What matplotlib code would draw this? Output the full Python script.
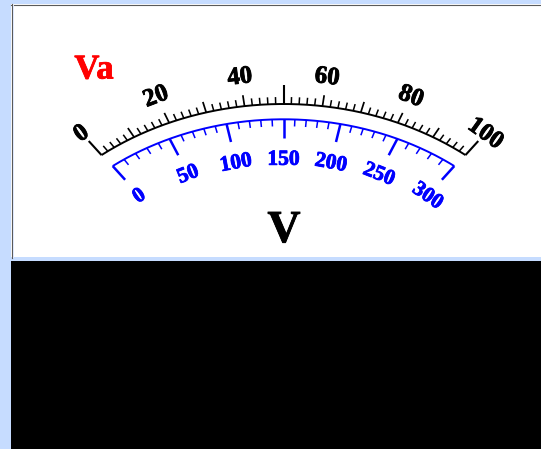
import numpy as np
import matplotlib
matplotlib.use("Agg")
import matplotlib.pyplot as plt
import matplotlib.patheffects as pe
from matplotlib.patches import Rectangle
from matplotlib.collections import LineCollection

# ---------------- data ----------------
outer_min, outer_max = 0, 100          # black scale
outer_minor_step = 2
outer_mid_step = 10
outer_long_values = [0, 50, 100]
outer_labels = [0, 20, 40, 60, 80, 100]

inner_min, inner_max = 0, 300          # blue scale
inner_minor_step = 10
inner_major_step = 50
inner_labels = [0, 50, 100, 150, 200, 250, 300]

meter_name = "Va"
unit_name = "V"

# ---------------- geometry (pixel space) ----------------
W, H = 541, 449
CX, CY = 283.5, 355.0          # common centre of the dial
EXTRA_A = 50.0                 # horizontal semi-axis = vertical + EXTRA_A
R_OUT = 251.0
T_OUT = np.radians(37.2)
R_IN = 235.7
S_IN = 0.5978

fig = plt.figure(figsize=(W / 100, H / 100), dpi=100, facecolor="#C6DCFF")
ax = fig.add_axes([0, 0, 1, 1])
ax.set_xlim(0, W)
ax.set_ylim(H, 0)
ax.axis("off")

# panel and lower black area
ax.add_patch(Rectangle((11, 4), W - 11, 253, facecolor="white", edgecolor="none", zorder=0))
ax.plot([11, W], [4.5, 4.5], color="#5a5a5a", lw=0.8, zorder=1)
ax.plot([11.5, 11.5], [4, 258], color="#5a5a5a", lw=0.8, zorder=1)
ax.plot([12.5, 12.5], [5, 257], color="#DDE8FF", lw=0.7, zorder=1)
ax.add_patch(Rectangle((11, 261), W - 11, H - 261, facecolor="black", edgecolor="none", zorder=0))


def ell(r, t):
    return CX + (r + EXTRA_A) * np.sin(t), CY - r * np.cos(t)


def normal_deg(r, t):
    a = r + EXTRA_A
    return np.degrees(np.arctan2(r * np.sin(t), a * np.cos(t)))


def t_outer(v):
    return -T_OUT + 2 * T_OUT * (v - outer_min) / (outer_max - outer_min)


def t_inner(v):
    s = (v - (inner_min + inner_max) / 2) / ((inner_max - inner_min) / 2)
    return np.arcsin(S_IN * s)


def direction(px, py):
    dx, dy = px - CX, py - CY
    n = np.hypot(dx, dy)
    return dx / n, dy / n


def bolder(color):
    return [pe.withStroke(linewidth=0.6, foreground=color)]


# ---------- outer (black) scale ----------
tt = np.linspace(-T_OUT, T_OUT, 300)
xs, ys = ell(R_OUT, tt)
ax.plot(xs, ys, color="black", lw=1.4, solid_capstyle="butt", zorder=3)

segs, lws = [], []
for v in np.arange(outer_min, outer_max + 0.001, outer_minor_step):
    px, py = ell(R_OUT, t_outer(v))
    ux, uy = direction(px, py)
    if v in outer_long_values:
        L, lw = 19, 1.5
    elif v % outer_mid_step == 0:
        L, lw = 11, 1.25
    else:
        L, lw = 7, 1.1
    segs.append([(px, py), (px + L * ux, py + L * uy)])
    lws.append(lw)
ax.add_collection(LineCollection(segs, colors="black", linewidths=lws, zorder=3))

for v in outer_labels:
    t = t_outer(v)
    px, py = ell(R_OUT, t)
    ux, uy = direction(px, py)
    ax.text(px + 32 * ux, py + 32 * uy, str(v), ha="center", va="center_baseline",
            rotation=-normal_deg(R_OUT, t) * 1.1, rotation_mode="anchor",
            fontsize=18, fontweight="bold", family="Liberation Serif",
            color="black", zorder=4, path_effects=bolder("black"))

# ---------- inner (blue) scale ----------
t_end = np.arcsin(S_IN)
tt = np.linspace(-t_end, t_end, 300)
xs, ys = ell(R_IN, tt)
ax.plot(xs, ys, color="#0000FF", lw=1.4, solid_capstyle="butt", zorder=3)

segs, lws = [], []
for v in np.arange(inner_min, inner_max + 0.001, inner_minor_step):
    px, py = ell(R_IN, t_inner(v))
    ux, uy = direction(px, py)
    if v % inner_major_step == 0:
        L, lw = 18.5, 1.8
    else:
        L, lw = 7, 1.1
    segs.append([(px, py), (px - L * ux, py - L * uy)])
    lws.append(lw)
ax.add_collection(LineCollection(segs, colors="#0000FF", linewidths=lws, zorder=3))

for v in inner_labels:
    t = t_inner(v)
    px, py = ell(R_IN, t)
    ux, uy = direction(px, py)
    ax.text(px - 38 * ux, py - 38 * uy, str(v), ha="center", va="center_baseline",
            rotation=-normal_deg(R_IN, t) * 1.1, rotation_mode="anchor",
            fontsize=15.5, fontweight="bold", family="Liberation Serif",
            color="#0000FF", zorder=4, path_effects=bolder("#0000FF"))

# ---------- names ----------
ax.text(94, 78.5, meter_name, ha="center", va="baseline", fontsize=25,
        fontweight="bold", family="Liberation Serif", color="#FF0000", zorder=4,
        path_effects=bolder("#FF0000"))
ax.text(284, 242, unit_name, ha="center", va="baseline", fontsize=33,
        fontweight="bold", family="Liberation Serif", color="black", zorder=4,
        path_effects=bolder("black"))

fig.savefig("out.png", dpi=100, facecolor=fig.get_facecolor())
